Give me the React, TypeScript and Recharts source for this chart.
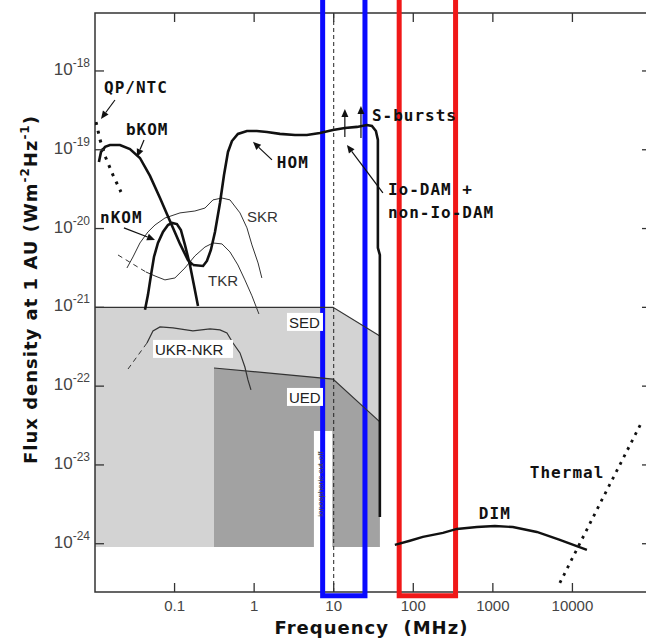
import React from 'react';
import {
  ComposedChart,
  Line,
  Area,
  XAxis,
  YAxis,
  ReferenceArea,
  ReferenceLine,
  ReferenceDot,
} from 'recharts';

type P = [number, number];

// ---------- axes ----------
const X_MIN = 0.01;
const X_MAX = 1e5;
const Y_MIN = 2.44e-25;
const Y_MAX = 5.44e-18;
const xTicks = [0.1, 1, 10, 100, 1000, 10000];
const xTickLabels = ['0.1', '1', '10', '100', '1000', '10000'];
const yTicks = [1e-24, 1e-23, 1e-22, 1e-21, 1e-20, 1e-19, 1e-18];
const yTickExponents = ['-24', '-23', '-22', '-21', '-20', '-19', '-18'];

// ---------- series: [frequency MHz, flux density W m^-2 Hz^-1] ----------
const qpNtc: P[] = [[0.0103, 2.25e-19], [0.0116, 1.33e-19], [0.0137, 7.87e-20], [0.0168, 4.79e-20], [0.0212, 2.91e-20]];
const bKom: P[] = [[0.0112, 7.0e-20], [0.0119, 9.4e-20], [0.0134, 1.09e-19], [0.0154, 1.15e-19], [0.0206, 1.15e-19], [0.0275, 1.02e-19], [0.0367, 7.87e-20], [0.0491, 4.66e-20], [0.0656, 2.44e-20], [0.0875, 1.25e-20], [0.117, 6.38e-21], [0.147, 4.0e-21], [0.17, 3.45e-21]];
const hom: P[] = [[0.17, 3.45e-21], [0.228, 3.35e-21], [0.255, 3.88e-21], [0.286, 5.35e-21], [0.322, 9.06e-21], [0.372, 2.11e-20], [0.418, 4.79e-20], [0.469, 9.38e-20], [0.526, 1.29e-19], [0.625, 1.59e-19], [0.812, 1.73e-19], [1.08, 1.73e-19], [1.45, 1.68e-19], [2.11, 1.59e-19], [3.26, 1.54e-19], [4.6, 1.54e-19], [6.71, 1.63e-19], [9.78, 1.78e-19], [13.8, 1.89e-19], [19.6, 1.95e-19], [26.1, 2.06e-19], [30.2, 2.0e-19], [33.9, 1.73e-19], [35.9, 1.33e-19], [35.9, 5.7e-21], [38.0, 4.62e-21], [38.0, 2.19e-24]];
const nKom: P[] = [[0.0425, 9.3e-22], [0.0463, 1.44e-21], [0.0506, 2.58e-21], [0.0551, 4.36e-21], [0.0618, 6.56e-21], [0.0715, 9.06e-21], [0.0826, 1.11e-20], [0.0927, 1.18e-20], [0.107, 1.14e-20], [0.12, 9.6e-21], [0.135, 6.2e-21], [0.156, 3.45e-21], [0.175, 1.92e-21], [0.197, 1.04e-21]];
const skr: P[] = [[0.0252, 3.16e-21], [0.03, 4.36e-21], [0.0367, 6.56e-21], [0.0463, 9.06e-21], [0.0568, 1.11e-20], [0.0757, 1.36e-20], [0.117, 1.58e-20], [0.18, 1.67e-20], [0.241, 1.82e-20], [0.304, 2.31e-20], [0.394, 2.44e-20], [0.497, 2.31e-20], [0.664, 1.58e-20], [0.812, 1.02e-20], [0.938, 6.2e-21], [1.12, 3.66e-21], [1.25, 2.36e-21]];
const tkrDashed: P[] = [[0.01945, 4.62e-21], [0.0437, 2.81e-21]];
const tkr: P[] = [[0.0437, 2.81e-21], [0.0568, 2.5e-21], [0.0757, 2.23e-21], [0.101, 2.36e-21], [0.135, 3.16e-21], [0.18, 4.49e-21], [0.241, 5.83e-21], [0.304, 6.56e-21], [0.394, 6.38e-21], [0.497, 5.05e-21], [0.625, 3.45e-21], [0.765, 2.23e-21], [0.938, 1.4e-21], [1.148, 8.24e-22]];
const ukrDashed: P[] = [[0.026, 1.65e-22], [0.045, 3.53e-22]];
const ukr: P[] = [[0.045, 3.53e-22], [0.0535, 5.02e-22], [0.0656, 5.64e-22], [0.0955, 5.48e-22], [0.17, 5.02e-22], [0.279, 5.32e-22], [0.372, 5.17e-22], [0.455, 4.73e-22], [0.542, 3.53e-22], [0.664, 2.64e-22], [0.765, 1.75e-22], [0.836, 1.2e-22], [0.912, 8.95e-23]];
const dim: P[] = [[58.7, 9.66e-25], [90.6, 1.09e-24], [132, 1.22e-24], [236, 1.37e-24], [353, 1.54e-24], [630, 1.63e-24], [1060, 1.68e-24], [1783, 1.63e-24], [3570, 1.41e-24], [6950, 1.12e-24], [15200, 8.34e-25]];
const thermal: P[] = [[6950, 3.18e-25], [22750, 3.39e-24], [74500, 3.52e-23]];
const sedTop: P[] = [[0.01, 1e-21], [9.8, 1e-21], [38, 4.34e-22]];
const uedTop: P[] = [[0.313, 1.7e-22], [9.8, 1.23e-22], [38, 3.52e-23]];
const regionFloor = 9.1e-25;

// ---------- annotations (data coordinates) ----------
const boldLabels = [
  { text: 'QP/NTC', f: 0.013, s: 5.26e-19 },
  { text: 'bKOM', f: 0.0245, s: 1.54e-19 },
  { text: 'HOM', f: 1.93, s: 5.87e-20 },
  { text: 'nKOM', f: 0.01156, s: 1.18e-20 },
  { text: 'S-bursts', f: 30.2, s: 2.32e-19 },
  { text: 'Io-DAM +', f: 48.0, s: 2.67e-20 },
  { text: 'non-Io-DAM', f: 48.0, s: 1.36e-20 },
  { text: 'DIM', f: 667, s: 2.07e-24 },
  { text: 'Thermal', f: 2917, s: 6.84e-24 },
];
const thinLabels = [
  { text: 'SKR', f: 0.812, s: 1.21e-20 },
  { text: 'TKR', f: 0.263, s: 1.87e-21 },
];
const boxedLabels = [
  { text: 'SED', f: 2.74, s: 5.48e-22, w: 36 },
  { text: 'UED', f: 2.74, s: 6.12e-23, w: 36 },
  { text: 'UKR-NKR', f: 0.0568, s: 2.49e-22, w: 80 },
];
const arrows = [
  { f1: 0.01782, s1: 4.28e-19, f2: 0.01189, s2: 2.46e-19 },
  { f1: 0.0413, s1: 1.33e-19, f2: 0.0337, s2: 8.11e-20 },
  { f1: 1.675, s1: 7.43e-20, f2: 0.966, s2: 1.26e-19 },
  { f1: 0.0231, s1: 1.02e-20, f2: 0.0568, s2: 7.17e-21 },
  { f1: 41.5, s1: 2.83e-20, f2: 14.66, s2: 1.15e-19 },
  { f1: 13.8, s1: 1.45e-19, f2: 13.8, s2: 3.3e-19 },
  { f1: 22.0, s1: 1.41e-19, f2: 22.0, s2: 3.6e-19 },
];
const ionoBox = { f1: 5.64, f2: 9.6, s1: Y_MIN, s2: 2.7e-23 };
const ionoLabel = { text: 'ionospheric cut-off', f: 7.3, s: 2.2e-24 };
const blueBand = { f1: 7.26, f2: 24.7, s1: 2.19e-25, s2: 1e-17 };
const redBand = { f1: 66.5, f2: 340, s1: 2.19e-25, s2: 1e-17 };

const toPts = (a: P[]) => a.map(([f, s]) => ({ f, s }));
const toRange = (a: P[], floor: number) => a.map(([f, s]) => ({ f, s: [floor, s] }));

// ---------- layout / style ----------
const PLOT_TOP = 13;
const PLOT_LEFT = 95;
const PLOT_RIGHT = 652;
const X_AXIS_H = 49;
const TICK = '#333';
const LABEL_GRAY = '#444';
const SANS = "'Liberation Sans', Arial, sans-serif";
const MONO = "'DejaVu Sans Mono', monospace";
const BOLD_SANS = "'DejaVu Sans', sans-serif";

const XTick = (props: any) => {
  const { x, y, payload } = props;
  const i = xTicks.indexOf(payload.value);
  return (
    <g>
      <line x1={x} x2={x} y1={y} y2={y - 9} stroke={TICK} strokeWidth={1.3} />
      <line x1={x} x2={x} y1={PLOT_TOP} y2={PLOT_TOP + 9} stroke={TICK} strokeWidth={1.3} />
      <text x={x} y={y + 19} textAnchor="middle" fontFamily={SANS} fontSize={15} fill={LABEL_GRAY}>
        {i >= 0 ? xTickLabels[i] : String(payload.value)}
      </text>
    </g>
  );
};

const YTick = (props: any) => {
  const { x, y, payload } = props;
  const i = yTicks.findIndex((t) => Math.abs(Math.log10(t) - Math.log10(payload.value)) < 1e-6);
  return (
    <g>
      <line x1={x} x2={x + 9} y1={y} y2={y} stroke={TICK} strokeWidth={1.3} />
      <line x1={PLOT_RIGHT - 10} x2={PLOT_RIGHT} y1={y} y2={y} stroke={TICK} strokeWidth={1.3} />
      <text x={x - 5} y={y + 4} textAnchor="end" fontFamily={SANS} fontSize={17} fill={LABEL_GRAY}>
        10
        <tspan dy={-8} fontSize={12}>
          {i >= 0 ? yTickExponents[i] : ''}
        </tspan>
      </text>
    </g>
  );
};

const XTitle = (props: any) => {
  const vb = props.viewBox || {};
  return (
    <text
      x={vb.x + vb.width / 2 - 2}
      y={vb.y + 42}
      textAnchor="middle"
      fontFamily={BOLD_SANS}
      fontWeight="bold"
      fontSize={18}
      letterSpacing={1}
      fill="#111"
      style={{ whiteSpace: 'pre' }}
    >
      {'Frequency  (MHz)'}
    </text>
  );
};

const YTitle = (props: any) => {
  const vb = props.viewBox || {};
  const cx = vb.x + 37;
  const cy = vb.y + vb.height / 2 - 13;
  return (
    <text
      transform={`translate(${cx}, ${cy}) rotate(-90)`}
      textAnchor="middle"
      fontFamily={BOLD_SANS}
      fontWeight="bold"
      fontSize={18}
      letterSpacing={1}
      fill="#111"
      style={{ whiteSpace: 'pre' }}
    >
      {'Flux density at 1 AU (Wm'}
      <tspan dy={-8} fontSize={12}>-2</tspan>
      <tspan dy={8}>Hz</tspan>
      <tspan dy={-8} fontSize={12}>-1</tspan>
      <tspan dy={8}>)</tspan>
    </text>
  );
};

const arrowShape = (p: any) => {
  const { x1, y1, x2, y2 } = p;
  if ([x1, y1, x2, y2].some((v) => typeof v !== 'number' || isNaN(v))) return <g />;
  const ang = Math.atan2(y2 - y1, x2 - x1);
  const L = 8;
  const W = 3.5;
  const bx = x2 - L * Math.cos(ang);
  const by = y2 - L * Math.sin(ang);
  const px = -Math.sin(ang) * W;
  const py = Math.cos(ang) * W;
  return (
    <g>
      <line x1={x1} y1={y1} x2={bx} y2={by} stroke="#111" strokeWidth={1.2} />
      <polygon points={`${x2},${y2} ${bx + px},${by + py} ${bx - px},${by - py}`} fill="#111" />
    </g>
  );
};

const boldLabelShape = (text: string) => (p: any) => (
  <text x={p.cx} y={p.cy} fontFamily={MONO} fontWeight="bold" fontSize={16} letterSpacing={1} fill="#111" style={{ whiteSpace: 'pre' }}>
    {text}
  </text>
);

const thinLabelShape = (text: string) => (p: any) => (
  <text x={p.cx} y={p.cy} fontFamily={SANS} fontSize={15} fill="#333">
    {text}
  </text>
);

const boxedLabelShape = (text: string, w: number) => (p: any) => (
  <g>
    <rect x={p.cx - 2} y={p.cy - 15} width={w} height={18} fill="#fff" />
    <text x={p.cx} y={p.cy} fontFamily={SANS} fontSize={15} fill="#222">
      {text}
    </text>
  </g>
);

const ionoShape = (text: string) => (p: any) => (
  <text
    transform={`translate(${p.cx}, ${p.cy}) rotate(-90)`}
    fontFamily={SANS}
    fontSize={8}
    fill="#444"
  >
    {text}
  </text>
);

export default function App() {
  return (
    <div style={{ position: 'absolute', left: 0, top: 0, width: 646, height: 641, overflow: 'hidden', background: '#fff' }}>
      <ComposedChart width={655} height={641} margin={{ top: PLOT_TOP, right: 3, bottom: 0, left: 0 }}>
        <Area
          data={toRange(sedTop, regionFloor)}
          dataKey="s"
          type="linear"
          stroke="none"
          fill="#d3d3d3"
          fillOpacity={1}
          isAnimationActive={false}
          dot={false}
          activeDot={false}
        />
        <Area
          data={toRange(uedTop, regionFloor)}
          dataKey="s"
          type="linear"
          stroke="none"
          fill="#a2a2a2"
          fillOpacity={1}
          isAnimationActive={false}
          dot={false}
          activeDot={false}
        />
        <ReferenceArea x1={ionoBox.f1} x2={ionoBox.f2} y1={ionoBox.s1} y2={ionoBox.s2} fill="#fff" fillOpacity={1} stroke="none" ifOverflow="visible" />
        <ReferenceDot x={ionoLabel.f} y={ionoLabel.s} r={0} shape={ionoShape(ionoLabel.text)} ifOverflow="visible" />

        <XAxis
          dataKey="f"
          type="number"
          scale="log"
          domain={[X_MIN, X_MAX]}
          allowDataOverflow
          ticks={xTicks}
          interval={0}
          tick={<XTick />}
          tickLine={false}
          axisLine={false}
          tickSize={0}
          tickMargin={0}
          height={X_AXIS_H}
          label={{ content: XTitle }}
        />
        <YAxis
          type="number"
          scale="log"
          domain={[Y_MIN, Y_MAX]}
          allowDataOverflow
          ticks={yTicks}
          interval={0}
          tick={<YTick />}
          tickLine={false}
          axisLine={false}
          tickSize={0}
          tickMargin={0}
          width={PLOT_LEFT}
          label={{ content: YTitle }}
        />

        <Line data={toPts(sedTop)} dataKey="s" type="linear" stroke="#333" strokeWidth={1.2} dot={false} activeDot={false} isAnimationActive={false} />
        <Line data={toPts(uedTop)} dataKey="s" type="linear" stroke="#333" strokeWidth={1.2} dot={false} activeDot={false} isAnimationActive={false} />

        <Line data={toPts(skr)} dataKey="s" type="linear" stroke="#333" strokeWidth={1} dot={false} activeDot={false} isAnimationActive={false} />
        <Line data={toPts(tkrDashed)} dataKey="s" type="linear" stroke="#333" strokeWidth={1} strokeDasharray="5 4" dot={false} activeDot={false} isAnimationActive={false} />
        <Line data={toPts(tkr)} dataKey="s" type="linear" stroke="#333" strokeWidth={1} dot={false} activeDot={false} isAnimationActive={false} />
        <Line data={toPts(ukrDashed)} dataKey="s" type="linear" stroke="#333" strokeWidth={1} strokeDasharray="5 4" dot={false} activeDot={false} isAnimationActive={false} />
        <Line data={toPts(ukr)} dataKey="s" type="linear" stroke="#333" strokeWidth={1.2} dot={false} activeDot={false} isAnimationActive={false} />

        <Line data={toPts(qpNtc)} dataKey="s" type="linear" stroke="#111" strokeWidth={3} strokeDasharray="3 6" dot={false} activeDot={false} isAnimationActive={false} />
        <Line data={toPts(bKom)} dataKey="s" type="linear" stroke="#111" strokeWidth={2.6} dot={false} activeDot={false} isAnimationActive={false} />
        <Line data={toPts(hom)} dataKey="s" type="linear" stroke="#111" strokeWidth={2.6} dot={false} activeDot={false} isAnimationActive={false} />
        <Line data={toPts(nKom)} dataKey="s" type="linear" stroke="#111" strokeWidth={2.6} dot={false} activeDot={false} isAnimationActive={false} />
        <Line data={toPts(dim)} dataKey="s" type="linear" stroke="#111" strokeWidth={2.4} dot={false} activeDot={false} isAnimationActive={false} />
        <Line data={toPts(thermal)} dataKey="s" type="linear" stroke="#111" strokeWidth={2.8} strokeDasharray="2.8 5.5" dot={false} activeDot={false} isAnimationActive={false} />

        <ReferenceLine x={10} stroke="#222" strokeWidth={1} strokeDasharray="4 3" ifOverflow="visible" />

        {arrows.map((a, i) => (
          <ReferenceLine
            key={`ar${i}`}
            segment={[{ x: a.f1, y: a.s1 }, { x: a.f2, y: a.s2 }]}
            shape={arrowShape}
            ifOverflow="visible"
          />
        ))}
        {boldLabels.map((l, i) => (
          <ReferenceDot key={`bl${i}`} x={l.f} y={l.s} r={0} shape={boldLabelShape(l.text)} ifOverflow="visible" />
        ))}
        {thinLabels.map((l, i) => (
          <ReferenceDot key={`tl${i}`} x={l.f} y={l.s} r={0} shape={thinLabelShape(l.text)} ifOverflow="visible" />
        ))}
        {boxedLabels.map((l, i) => (
          <ReferenceDot key={`xl${i}`} x={l.f} y={l.s} r={0} shape={boxedLabelShape(l.text, l.w)} ifOverflow="visible" />
        ))}

        <ReferenceArea x1={X_MIN} x2={X_MAX} y1={Y_MIN} y2={Y_MAX} fill="none" stroke="#333" strokeWidth={1.5} ifOverflow="visible" />
        <ReferenceArea x1={blueBand.f1} x2={blueBand.f2} y1={blueBand.s1} y2={blueBand.s2} fill="none" stroke="#0a0aff" strokeWidth={5} ifOverflow="visible" />
        <ReferenceArea x1={redBand.f1} x2={redBand.f2} y1={redBand.s1} y2={redBand.s2} fill="none" stroke="#f01818" strokeWidth={5} ifOverflow="visible" />
      </ComposedChart>
    </div>
  );
}
